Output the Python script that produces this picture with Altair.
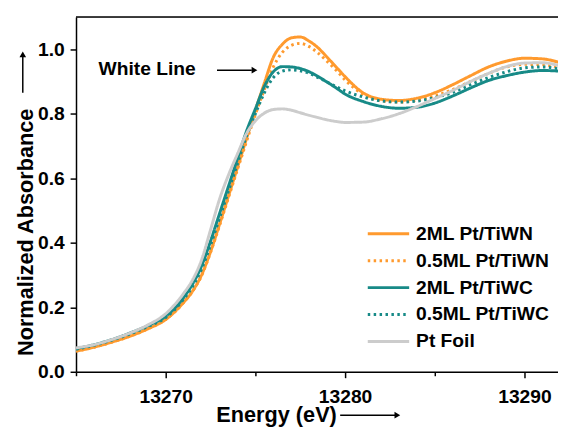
import altair as alt
import pandas as pd

# ---------------- data ----------------
energy = [13265, 13266, 13267, 13268, 13269, 13270, 13271, 13271.5, 13272, 13272.5,
          13273, 13273.5, 13274, 13274.5, 13275, 13275.5, 13276, 13276.5, 13277, 13277.5,
          13278, 13278.5, 13279, 13279.5, 13280, 13281, 13282, 13283, 13284, 13285,
          13286, 13287, 13288, 13289, 13290, 13291, 13292]

wn_2ml = [0.064, 0.076, 0.092, 0.110, 0.133, 0.162, 0.215, 0.250, 0.300, 0.372,
          0.457, 0.545, 0.633, 0.722, 0.810, 0.895, 0.975, 1.015, 1.035, 1.038,
          1.025, 1.004, 0.975, 0.945, 0.915, 0.865, 0.845, 0.841, 0.848, 0.865,
          0.890, 0.918, 0.945, 0.963, 0.972, 0.970, 0.958]

wn_05ml = [0.064, 0.076, 0.092, 0.110, 0.133, 0.162, 0.215, 0.250, 0.298, 0.370,
           0.453, 0.540, 0.627, 0.713, 0.798, 0.875, 0.945, 0.990, 1.012, 1.018,
           1.008, 0.988, 0.962, 0.935, 0.905, 0.860, 0.841, 0.836, 0.842, 0.855,
           0.875, 0.900, 0.925, 0.945, 0.953, 0.952, 0.943]

wc_2ml = [0.072, 0.084, 0.100, 0.120, 0.143, 0.172, 0.230, 0.272, 0.328, 0.405,
          0.490, 0.575, 0.660, 0.745, 0.815, 0.885, 0.930, 0.946, 0.945, 0.940,
          0.930, 0.915, 0.898, 0.880, 0.861, 0.838, 0.823, 0.817, 0.820, 0.833,
          0.855, 0.880, 0.903, 0.918, 0.929, 0.934, 0.932]

wc_05ml = [0.070, 0.082, 0.098, 0.117, 0.140, 0.168, 0.225, 0.265, 0.318, 0.393,
           0.476, 0.560, 0.645, 0.730, 0.800, 0.865, 0.912, 0.932, 0.936, 0.933,
           0.925, 0.912, 0.898, 0.884, 0.871, 0.852, 0.840, 0.836, 0.839, 0.850,
           0.866, 0.890, 0.912, 0.930, 0.942, 0.945, 0.938]

pt_foil = [0.074, 0.084, 0.100, 0.120, 0.145, 0.180, 0.243, 0.285, 0.347, 0.440,
           0.535, 0.610, 0.675, 0.738, 0.778, 0.802, 0.813, 0.815, 0.811, 0.803,
           0.795, 0.788, 0.781, 0.776, 0.773, 0.774, 0.784, 0.800, 0.822, 0.847,
           0.872, 0.900, 0.925, 0.946, 0.957, 0.958, 0.948]

series_names = ["2ML Pt/TiWN", "0.5ML Pt/TiWN", "2ML Pt/TiWC", "0.5ML Pt/TiWC", "Pt Foil"]
series_values = [wn_2ml, wn_05ml, wc_2ml, wc_05ml, pt_foil]
series_colors = ["#FF9A2E", "#FF9A2E", "#178A87", "#178A87", "#CCCCCC"]
series_dash = [[1, 0], [2.5, 3.5], [1, 0], [2.5, 3.5], [1, 0]]

x_ticks = [13265, 13270, 13275, 13280, 13285, 13290]
y_ticks = [0.0, 0.1, 0.2, 0.3, 0.4, 0.5, 0.6, 0.7, 0.8, 0.9, 1.0, 1.1]

annotation_text = "White Line"

# ---------------- build table ----------------
rows = []
for name, vals in zip(series_names, series_values):
    for e, v in zip(energy, vals):
        rows.append({"Energy": e, "Absorbance": v, "Sample": name})
df = pd.DataFrame(rows)

FONT = "Liberation Sans"
W, H = 489, 360

x_scale = alt.Scale(domain=[13265, 13291.87], nice=False, zero=False)
y_scale = alt.Scale(domain=[0, 1.1], nice=False, zero=False)

x_axis = alt.Axis(
    values=x_ticks,
    labelExpr="datum.value % 10 == 0 ? format(datum.value, 'd') : ''",
    tickSize={"condition": {"test": "datum.value % 10 == 0", "value": 6}, "value": 4},
    labelFont=FONT, labelFontSize=19.5, labelFontWeight="bold", labelColor="black",
    labelPadding=10, labelFlush=False,
    domainColor="black", domainWidth=1.5, tickColor="black", tickWidth=1.5,
    grid=False,
    title="Energy (eV)", titleFont=FONT, titleFontSize=22, titleFontWeight="bold",
    titleColor="black", titleX=203, titleY=50, titleAlign="center",
    titleBaseline="alphabetic", titleAnchor="start",
)
y_axis = alt.Axis(
    values=y_ticks,
    labelExpr="round(datum.value * 10) % 2 == 0 ? format(datum.value, '.1f') : ''",
    tickSize={"condition": {"test": "round(datum.value * 10) % 2 == 0", "value": 6}, "value": 4},
    labelFont=FONT, labelFontSize=19.5, labelFontWeight="bold", labelColor="black",
    labelPadding=6, labelFlush=False,
    domainColor="black", domainWidth=1.5, tickColor="black", tickWidth=1.5,
    grid=False,
    title="Normalized Absorbance", titleFont=FONT, titleFontSize=22, titleFontWeight="bold",
    titleColor="black", titleX=-44, titleY=218, titleAngle=270, titleAlign="center",
    titleBaseline="alphabetic", titleAnchor="start",
)

# custom symbol: a 42px horizontal stroke drawn from a 21px symbol box
legend = alt.Legend(
    orient="none", legendX=305, legendY=208, title=None,
    symbolType="M-2,0H2", symbolSize=441, symbolStrokeWidth=3,
    labelFont=FONT, labelFontSize=19.5, labelFontWeight="bold", labelColor="black",
    labelOffset=16, rowPadding=5.3, padding=0,
)

lines = alt.Chart(df).mark_line(strokeWidth=3, clip=True, interpolate="monotone").encode(
    x=alt.X("Energy:Q", scale=x_scale, axis=x_axis),
    y=alt.Y("Absorbance:Q", scale=y_scale, axis=y_axis),
    color=alt.Color("Sample:N", sort=series_names,
                    scale=alt.Scale(domain=series_names, range=series_colors),
                    legend=legend),
    strokeDash=alt.StrokeDash("Sample:N", sort=series_names,
                              scale=alt.Scale(domain=series_names, range=series_dash),
                              legend=legend),
)

top_line = alt.Chart().mark_rule(color="black", strokeWidth=1.5).encode(y=alt.value(0))

wl_text = alt.Chart().mark_text(
    text=annotation_text, font=FONT, fontSize=19.5, fontWeight="bold",
    align="left", baseline="middle", color="black",
).encode(x=alt.datum(13266.26, scale=x_scale), y=alt.datum(0.938, scale=y_scale))

wl_arrow = alt.Chart().mark_rule(color="black", strokeWidth=1.5).encode(
    x=alt.datum(13272.86), x2=alt.datum(13274.8), y=alt.datum(0.935)
)
wl_head = alt.Chart().mark_point(shape="triangle-right", filled=True, color="black",
                                 size=45, opacity=1).encode(
    x=alt.datum(13274.95), y=alt.datum(0.935)
)

x_arrow = alt.Chart().mark_rule(color="black", strokeWidth=1.5).encode(
    x=alt.value(268), x2=alt.value(324), y=alt.value(404)
)
x_head = alt.Chart().mark_point(shape="triangle-right", filled=True, color="black",
                                size=45, opacity=1).encode(x=alt.value(326), y=alt.value(404))
y_arrow = alt.Chart().mark_rule(color="black", strokeWidth=1.5).encode(
    x=alt.value(-54), y=alt.value(77), y2=alt.value(40)
)
y_head = alt.Chart().mark_point(shape="triangle-up", filled=True, color="black",
                                size=45, opacity=1).encode(x=alt.value(-54), y=alt.value(38))

chart = alt.layer(
    lines, top_line, wl_text, wl_arrow, wl_head, x_arrow, x_head, y_arrow, y_head
).properties(
    width=W, height=H,
    autosize=alt.AutoSizeParams(type="none"),
    padding={"left": 69, "top": 6, "right": 0, "bottom": 57},
).configure_view(stroke=None).configure(background="white")

chart.save("out.html", embed_options={"renderer": "svg", "actions": False})
